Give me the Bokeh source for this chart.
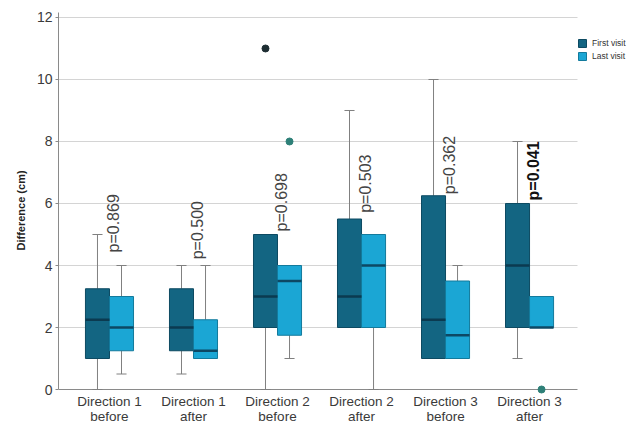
from bokeh.plotting import figure
from bokeh.models import Range1d, FixedTicker, Legend, LegendItem, Title
from bokeh.core.properties import value
from bokeh.embed import file_html
from bokeh.resources import INLINE

# ---- data ----
groups = ["Direction 1\nbefore", "Direction 1\nafter", "Direction 2\nbefore",
          "Direction 2\nafter", "Direction 3\nbefore", "Direction 3\nafter"]

first_low = [0, 0.5, 0, 2, 1, 1]
first_q1 = [1, 1.25, 2, 2, 1, 2]
first_med = [2.25, 2, 3, 3, 2.25, 4]
first_q3 = [3.25, 3.25, 5, 5.5, 6.25, 6]
first_high = [5, 4, 5, 9, 10, 8]

last_low = [0.5, 1, 1, 0, 1, 2]
last_q1 = [1.25, 1, 1.75, 2, 1, 2]
last_med = [2, 1.25, 3.5, 4, 1.75, 2]
last_q3 = [3, 2.25, 4, 5, 3.5, 3]
last_high = [4, 4, 4, 5, 4, 3]

first_out_group = [3]
first_out_val = [11]
last_out_group = [3, 6]
last_out_val = [8, 0]

p_labels = ["p=0.869", "p=0.500", "p=0.698", "p=0.503", "p=0.362", "p=0.041"]
p_bold = [False, False, False, False, False, True]
p_label_y = [4.42, 4.2, 5.1, 5.7, 6.3, 6.1]

yticks = [0, 2, 4, 6, 8, 10, 12]

FIRST_C = "#136582"
LAST_C = "#1ba6d4"
FIRST_MED = "#0b3a50"
LAST_MED = "#0d4864"
WHISK = "#808080"
AXIS_C = "#8a8a8a"
FONT = "Liberation Sans"

pos = list(range(1, len(groups) + 1))
bw = 0.286
cap = 0.06
X_LO, X_HI = 0.393, 6.571      # extent of the plotting area (grid / axis)
X_PANEL = 7.297                # frame reaches into the legend column
Y_TOP = 12.161
Y_BOT = -1.161                 # frame reaches down to hold the category labels

p = figure(width=638, height=425, output_backend="svg", toolbar_location=None,
           x_range=Range1d(X_LO, X_PANEL), y_range=Range1d(Y_BOT, Y_TOP),
           min_border_left=58, min_border_right=0, min_border_top=12,
           min_border_bottom=0)
p.outline_line_color = None
p.background_fill_color = "white"

p.xaxis.visible = False
p.xgrid.grid_line_color = None

p.yaxis.ticker = FixedTicker(ticks=yticks)
p.yaxis.bounds = (0, Y_TOP)
p.yaxis.axis_line_color = AXIS_C
p.yaxis.major_tick_line_color = AXIS_C
p.yaxis.major_tick_in = 0
p.yaxis.major_tick_out = 3
p.yaxis.minor_tick_line_color = None
p.yaxis.major_label_standoff = 3
p.yaxis.major_label_text_font = FONT
p.yaxis.major_label_text_font_size = "14px"
p.yaxis.major_label_text_color = "#3a3a3a"
p.ygrid.grid_line_color = None

p.add_layout(Title(text="Difference (cm)", align="left", offset=175,
                   text_font=FONT, text_font_style="bold",
                   text_font_size="11px", text_color="#222222", standoff=14),
             "left")

# grid lines and x axis line limited to the plotting area
gy = [t for t in yticks if t > 0]
p.segment(x0=[X_LO] * len(gy), x1=[X_HI] * len(gy), y0=gy, y1=gy,
          line_color="#d4d4d4", line_width=1)
p.segment(x0=[X_LO], x1=[X_HI], y0=[0], y1=[0], line_color=AXIS_C, line_width=1)

# category labels
p.text(x=pos, y=[0] * len(pos), text=groups, y_offset=4,
       text_align="center", text_baseline="top", text_font=value(FONT),
       text_font_size="13.5px", text_color="#3a3a3a", text_line_height=1.0)

xf = [x - bw / 2 for x in pos]
xl = [x + bw / 2 for x in pos]

# whiskers
for xs, lo, q1, q3, hi in [(xf, first_low, first_q1, first_q3, first_high),
                           (xl, last_low, last_q1, last_q3, last_high)]:
    p.segment(x0=xs, x1=xs, y0=q3, y1=hi, line_color=WHISK, line_width=1)
    p.segment(x0=xs, x1=xs, y0=lo, y1=q1, line_color=WHISK, line_width=1)
    hx = [x for x, a, b in zip(xs, hi, q3) if a > b]
    hy = [a for a, b in zip(hi, q3) if a > b]
    p.segment(x0=[x - cap for x in hx], x1=[x + cap for x in hx], y0=hy, y1=hy,
              line_color=WHISK, line_width=1)
    lx = [x for x, a, b in zip(xs, lo, q1) if a < b]
    ly = [a for a, b in zip(lo, q1) if a < b]
    p.segment(x0=[x - cap for x in lx], x1=[x + cap for x in lx], y0=ly, y1=ly,
              line_color=WHISK, line_width=1)

# boxes
r_first = p.vbar(x=xf, width=bw, bottom=first_q1, top=first_q3,
                 fill_color=FIRST_C, line_color="#0d4a62", line_width=1)
r_last = p.vbar(x=xl, width=bw, bottom=last_q1, top=last_q3,
                fill_color=LAST_C, line_color="#137a9c", line_width=1)

# medians
p.segment(x0=[x - bw / 2 for x in xf], x1=[x + bw / 2 for x in xf],
          y0=first_med, y1=first_med, line_color=FIRST_MED, line_width=2.5)
p.segment(x0=[x - bw / 2 for x in xl], x1=[x + bw / 2 for x in xl],
          y0=last_med, y1=last_med, line_color=LAST_MED, line_width=2.5)

# outliers
p.scatter(x=[g - bw / 2 for g in first_out_group], y=first_out_val, size=7,
          fill_color="#1e2e33", line_color="#1e2e33")
p.scatter(x=[g + bw / 2 for g in last_out_group], y=last_out_val, size=7,
          fill_color="#2e8078", line_color="#2e8078")

# p-value labels
for g, lab, b, yv in zip(pos, p_labels, p_bold, p_label_y):
    p.text(x=[g + 0.05], y=[yv], text=[lab], angle=1.5708,
           text_align="left", text_baseline="middle",
           text_font=value(FONT), text_font_size="16px",
           text_font_style="bold" if b else "normal",
           text_color="#111111" if b else "#444444")

legend = Legend(items=[LegendItem(label="First visit", renderers=[r_first]),
                       LegendItem(label="Last visit", renderers=[r_last])],
                location=(519, 364), label_text_font=FONT,
                label_text_font_size="8.5px", label_text_color="#333333",
                glyph_width=10, glyph_height=10, label_height=10,
                label_standoff=5, spacing=3, padding=0, margin=0,
                border_line_color=None, background_fill_alpha=0)
p.add_layout(legend)

open("out.html", "w").write(file_html(p, INLINE))
